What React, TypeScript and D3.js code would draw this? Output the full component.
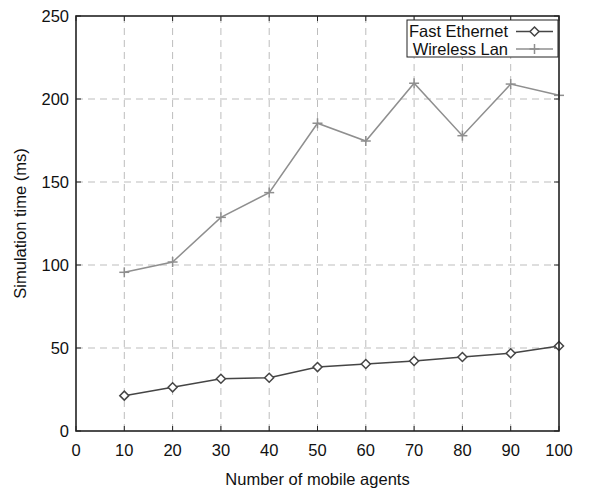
import { useEffect, useRef } from "react";
import * as d3 from "d3";

const agents = [10, 20, 30, 40, 50, 60, 70, 80, 90, 100];
const fastEthernet = [21.3, 26.3, 31.5, 32.1, 38.5, 40.4, 42.2, 44.6, 46.8, 51.2];
const wirelessLan = [95.6, 101.8, 128.7, 143.6, 185.4, 174.7, 209.5, 177.9, 209, 202.2];
const xTicks = [0, 10, 20, 30, 40, 50, 60, 70, 80, 90, 100];
const yTicks = [0, 50, 100, 150, 200, 250];

const W = 592;
const H = 488;
const M = { top: 16, right: 33, bottom: 57, left: 76 };
const FONT = "'Liberation Sans', Arial, Helvetica, sans-serif";
const FS = 16.5;

export default function App() {
  const svgRef = useRef<SVGSVGElement>(null);

  useEffect(() => {
    const svg = d3.select(svgRef.current!);
    svg.selectAll("*").remove();

    const x = d3.scaleLinear().domain([0, 100]).range([M.left, W - M.right]);
    const y = d3.scaleLinear().domain([0, 250]).range([H - M.bottom, M.top]);

    // grid
    const grid = svg.append("g").attr("stroke", "#bdbdbd").attr("stroke-dasharray", "7 5").attr("stroke-width", 1);
    xTicks.slice(1, -1).forEach((t) => {
      grid.append("line").attr("x1", x(t)).attr("x2", x(t)).attr("y1", y(0)).attr("y2", y(250));
    });
    yTicks.slice(1, -1).forEach((t) => {
      grid.append("line").attr("x1", x(0)).attr("x2", x(100)).attr("y1", y(t)).attr("y2", y(t));
    });

    // inward tick marks, mirrored
    const ticks = svg.append("g").attr("stroke", "#222").attr("stroke-width", 1);
    xTicks.forEach((t) => {
      ticks.append("line").attr("x1", x(t)).attr("x2", x(t)).attr("y1", y(0)).attr("y2", y(0) - 5);
      ticks.append("line").attr("x1", x(t)).attr("x2", x(t)).attr("y1", y(250)).attr("y2", y(250) + 5);
    });
    yTicks.forEach((t) => {
      ticks.append("line").attr("x1", x(0)).attr("x2", x(0) + 5).attr("y1", y(t)).attr("y2", y(t));
      ticks.append("line").attr("x1", x(100)).attr("x2", x(100) - 5).attr("y1", y(t)).attr("y2", y(t));
    });

    // tick labels
    svg.append("g").selectAll("text").data(xTicks).enter().append("text")
      .attr("x", (d) => x(d)).attr("y", y(0) + 25)
      .attr("text-anchor", "middle").attr("font-family", FONT).attr("font-size", FS).attr("fill", "#111")
      .text((d) => d);
    svg.append("g").selectAll("text").data(yTicks).enter().append("text")
      .attr("x", x(0) - 7).attr("y", (d) => y(d)).attr("dy", "0.35em")
      .attr("text-anchor", "end").attr("font-family", FONT).attr("font-size", FS).attr("fill", "#111")
      .text((d) => d);

    // axis titles
    svg.append("text").attr("x", (x(0) + x(100)) / 2).attr("y", H - 3)
      .attr("text-anchor", "middle").attr("font-family", FONT).attr("font-size", FS).attr("fill", "#111")
      .text("Number of mobile agents");
    svg.append("text").attr("transform", `translate(20,${(y(0) + y(250)) / 2}) rotate(-90)`)
      .attr("dy", "0.35em").attr("text-anchor", "middle").attr("font-family", FONT).attr("font-size", FS).attr("fill", "#111")
      .text("Simulation time (ms)");

    const line = d3.line<number>().x((_, i) => x(agents[i])).y((d) => y(d));

    // Wireless Lan
    const wColor = "#8f8f8f";
    svg.append("path").datum(wirelessLan).attr("d", line).attr("fill", "none").attr("stroke", wColor).attr("stroke-width", 1.5);
    const plus = (g: d3.Selection<SVGGElement, unknown, null, undefined>, cx: number, cy: number, c: string) => {
      g.append("line").attr("x1", cx - 5).attr("x2", cx + 5).attr("y1", cy).attr("y2", cy).attr("stroke", c).attr("stroke-width", 1.5);
      g.append("line").attr("x1", cx).attr("x2", cx).attr("y1", cy - 5).attr("y2", cy + 5).attr("stroke", c).attr("stroke-width", 1.5);
    };
    const wg = svg.append("g");
    wirelessLan.forEach((v, i) => plus(wg, x(agents[i]), y(v), wColor));

    // Fast Ethernet
    const fColor = "#454545";
    svg.append("path").datum(fastEthernet).attr("d", line).attr("fill", "none").attr("stroke", fColor).attr("stroke-width", 1.5);
    const diamond = (g: d3.Selection<SVGGElement, unknown, null, undefined>, cx: number, cy: number, c: string) => {
      g.append("path").attr("d", `M${cx},${cy - 4.5}L${cx + 4.5},${cy}L${cx},${cy + 4.5}L${cx - 4.5},${cy}Z`)
        .attr("fill", "white").attr("stroke", c).attr("stroke-width", 1.5);
    };
    const fg = svg.append("g");
    fastEthernet.forEach((v, i) => diamond(fg, x(agents[i]), y(v), fColor));

    // border
    svg.append("rect").attr("x", x(0)).attr("y", y(250)).attr("width", x(100) - x(0)).attr("height", y(0) - y(250))
      .attr("fill", "none").attr("stroke", "#222").attr("stroke-width", 1.6);

    // legend
    const lg = svg.append("g");
    lg.append("rect").attr("x", 407).attr("y", 20).attr("width", x(100) - 407 - 1).attr("height", 37)
      .attr("fill", "white").attr("stroke", "#222").attr("stroke-width", 1);
    const entries = [
      { label: "Fast Ethernet", color: fColor, kind: "diamond", cy: 31.5 },
      { label: "Wireless Lan", color: wColor, kind: "plus", cy: 49 },
    ];
    entries.forEach((e) => {
      lg.append("text").attr("x", 508).attr("y", e.cy).attr("dy", "0.35em").attr("text-anchor", "end")
        .attr("font-family", FONT).attr("font-size", FS).attr("fill", "#111").text(e.label);
      lg.append("line").attr("x1", 516).attr("x2", 553).attr("y1", e.cy).attr("y2", e.cy)
        .attr("stroke", e.color).attr("stroke-width", 1.5);
      if (e.kind === "diamond") diamond(lg, 534.5, e.cy, e.color);
      else plus(lg, 534.5, e.cy, e.color);
    });
  }, []);

  return (
    <svg ref={svgRef} width={W} height={H}
      style={{ position: "absolute", left: 0, top: 0, background: "white", display: "block" }} />
  );
}
